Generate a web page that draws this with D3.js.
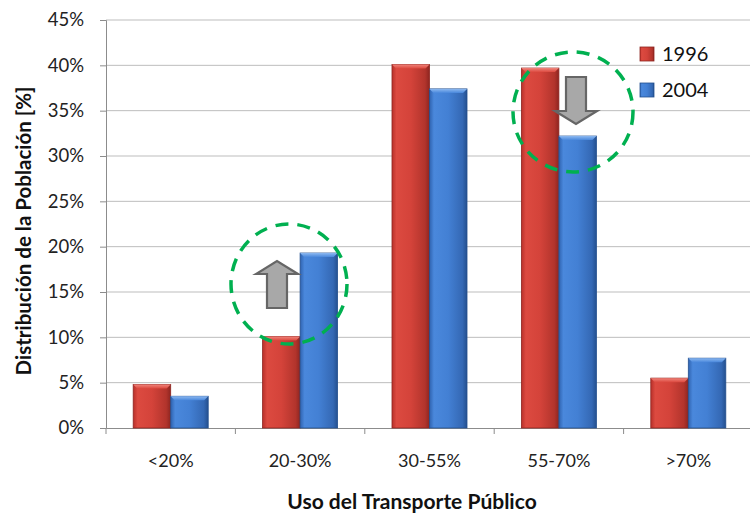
<!DOCTYPE html>
<html>
<head>
<meta charset="utf-8">
<script src="https://cdn.jsdelivr.net/npm/d3@7"></script>
<style>
  html, body { margin: 0; padding: 0; background: #fff; }
  svg { display: block; font-family: Lato, "Open Sans", sans-serif; }
</style>
</head>
<body>
<svg id="chart" width="750" height="515"></svg>
<script>
// Distribution of population by share of public transport use
const categories = ["<20%", "20-30%", "30-55%", "55-70%", ">70%"];
const seriesNames = ["1996", "2004"];
const values1996 = [4.8, 10.1, 40.1, 39.7, 5.5];
const values2004 = [3.5, 19.3, 37.4, 32.2, 7.7];
const yTicks = [0, 5, 10, 15, 20, 25, 30, 35, 40, 45];

const svg = d3.select("#chart");
const plotLeft = 106, plotRight = 753, plotTop = 20, plotBottom = 428;

const x0 = d3.scaleBand().domain(categories).range([plotLeft, plotRight]).paddingInner(0).paddingOuter(0);
const x1 = d3.scaleBand().domain(seriesNames).range([0, x0.bandwidth()]).paddingInner(0).paddingOuter(0.725);
const y = d3.scaleLinear().domain([0, 45]).range([plotBottom, plotTop]);

// gradients for the bevelled bars
const defs = svg.append("defs");
const palettes = {
  "1996": ["#b8302a", "#dc4a40", "#d4433a", "#b2342c", "#8e2520"],
  "2004": ["#2f63b0", "#4a88dc", "#4380d4", "#3468b4", "#24508f"]
};
seriesNames.forEach(s => {
  const g = defs.append("linearGradient").attr("id", "g" + s).attr("x1", 0).attr("x2", 1).attr("y1", 0).attr("y2", 0);
  [0, 0.12, 0.5, 0.88, 1].forEach((o, i) => g.append("stop").attr("offset", o).attr("stop-color", palettes[s][i]));
  const t = defs.append("linearGradient").attr("id", "t" + s).attr("x1", 0).attr("x2", 0).attr("y1", 0).attr("y2", 1);
  t.append("stop").attr("offset", 0).attr("stop-color", s === "1996" ? "#f0857c" : "#8cb8f0");
  t.append("stop").attr("offset", 1).attr("stop-color", s === "1996" ? "#dc4a40" : "#4a88dc");
});

// gridlines
svg.append("g").selectAll("line").data(yTicks.filter(d => d > 0)).join("line")
  .attr("x1", plotLeft).attr("x2", plotRight)
  .attr("y1", d => y(d)).attr("y2", d => y(d))
  .attr("stroke", "#bdbdbd").attr("stroke-width", 1);

// y axis
const yAxis = svg.append("g").attr("transform", `translate(${plotLeft},0)`)
  .call(d3.axisLeft(y).tickValues(yTicks).tickSize(6).tickPadding(16).tickFormat(d => d + "%"));
yAxis.select(".domain").attr("stroke", "#8c8c8c");
yAxis.selectAll(".tick line").attr("stroke", "#8c8c8c");
yAxis.selectAll("text").attr("font-size", 18.5).attr("fill", "#222").attr("font-family", "Lato, 'Open Sans', sans-serif");

// x axis
const xAxis = svg.append("g").attr("transform", `translate(0,${plotBottom})`)
  .call(d3.axisBottom(x0).tickSize(0).tickPadding(26));
xAxis.select(".domain").attr("stroke", "#8c8c8c");
xAxis.selectAll("text").attr("font-size", 18).attr("fill", "#222").attr("font-family", "Lato, 'Open Sans', sans-serif");
// category boundary ticks
svg.append("g").selectAll("line").data(categories).join("line")
  .attr("x1", d => x0(d)).attr("x2", d => x0(d))
  .attr("y1", plotBottom).attr("y2", plotBottom + 6)
  .attr("stroke", "#8c8c8c");

// bars
const rows = categories.map((c, i) => ({ c, vals: [
  { s: "1996", v: values1996[i] }, { s: "2004", v: values2004[i] }
]}));
const groups = svg.append("g").selectAll("g").data(rows).join("g")
  .attr("transform", d => `translate(${x0(d.c)},0)`);
groups.selectAll("g.bar").data(d => d.vals).join("g").attr("class", "bar").each(function(d) {
  const g = d3.select(this);
  const bx = x1(d.s), bw = x1.bandwidth(), by = y(d.v), bh = y(0) - y(d.v);
  g.append("rect").attr("x", bx).attr("y", by).attr("width", bw).attr("height", bh)
    .attr("fill", `url(#g${d.s})`)
    .attr("stroke", d.s === "1996" ? "#8e2520" : "#24508f").attr("stroke-width", 0.8);
  const bev = 4;
  g.append("path")
    .attr("d", `M${bx},${by} L${bx + bw},${by} L${bx + bw - bev},${by + bev} L${bx + bev},${by + bev} Z`)
    .attr("fill", `url(#t${d.s})`);
});

// legend
const legend = svg.append("g").attr("transform", "translate(640,47)");
seriesNames.forEach((s, i) => {
  const g = legend.append("g").attr("transform", `translate(0,${i * 36})`);
  g.append("rect").attr("width", 14).attr("height", 14).attr("fill", `url(#g${s})`)
    .attr("stroke", s === "1996" ? "#8e2520" : "#24508f").attr("stroke-width", 0.8);
  g.append("text").attr("x", 22).attr("y", 14).attr("font-size", 20).attr("fill", "#111").text(s);
});

// change arrows between years
function arrow(cx, yStart, yTip, dir) {
  const sw = 10, hw = 21, hl = 13 * dir;
  const yBase = yTip - hl;
  const p = `M${cx - sw},${yStart} L${cx - sw},${yBase} L${cx - hw},${yBase} L${cx},${yTip} L${cx + hw},${yBase} L${cx + sw},${yBase} L${cx + sw},${yStart} Z`;
  svg.append("path").attr("d", p).attr("fill", "#a8a8a8").attr("stroke", "#666").attr("stroke-width", 2.2).attr("stroke-linejoin", "miter");
}
arrow(277, 308, 261, -1);
arrow(576, 77, 124, 1);

// highlight circles
[[289, 284, 58, 60], [573, 112, 60, 60]].forEach(([cx, cy, rx, ry]) => {
  svg.append("ellipse").attr("cx", cx).attr("cy", cy).attr("rx", rx).attr("ry", ry)
    .attr("fill", "none").attr("stroke", "#00b050").attr("stroke-width", 3.5)
    .attr("stroke-dasharray", "13 9");
});

// axis titles
svg.append("text").attr("x", 412).attr("y", 509).attr("text-anchor", "middle")
  .attr("font-size", 21).attr("font-weight", "bold").attr("fill", "#111")
  .text("Uso del Transporte Público");
svg.append("text").attr("transform", "translate(31,231) rotate(-90)").attr("text-anchor", "middle")
  .attr("font-size", 20.5).attr("font-weight", "bold").attr("fill", "#111")
  .text("Distribución de la Población [%]");
</script>
</body>
</html>
